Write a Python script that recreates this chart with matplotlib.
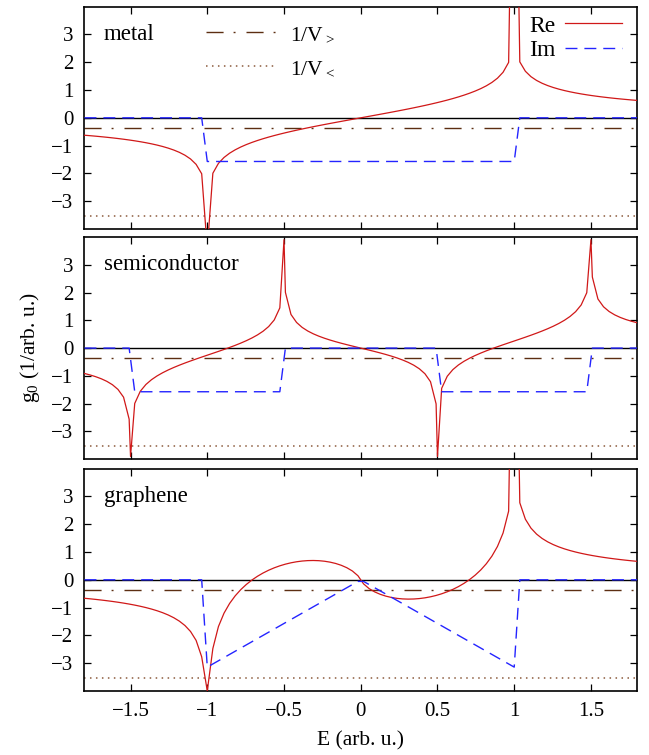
import numpy as np
import matplotlib
matplotlib.use('Agg')
import matplotlib.pyplot as plt
from matplotlib.ticker import FuncFormatter

plt.rcParams['font.family'] = ['Liberation Serif', 'DejaVu Serif']
plt.rcParams['mathtext.fontset'] = 'custom'
plt.rcParams['mathtext.rm'] = 'Liberation Serif'
plt.rcParams['mathtext.default'] = 'regular'
plt.rcParams['lines.scale_dashes'] = False

# sampling grid of the energy axis (100 samples)
energy = np.linspace(-1.8, 1.8, 100)
# semiconductor curve has extra samples right on the band edges
energy_semi = np.sort(np.append(energy, [-1.5, -0.5, 0.5, 1.5]))

# real parts
re_metal = [
    -0.6264, -0.6431, -0.6609, -0.6798, -0.7000, -0.7217, -0.7450, -0.7702, -0.7975, -0.8273,
    -0.8599, -0.8959, -0.9359, -0.9808, -1.0318, -1.0906, -1.1596, -1.2425, -1.3456, -1.4809,
    -1.6750, -2.0127, -4.7, -1.9945, -1.6386, -1.4263, -1.2728, -1.1513, -1.0500, -0.9626,
    -0.8854, -0.8157, -0.7520, -0.6931, -0.6381, -0.5864, -0.5373, -0.4904, -0.4455, -0.4022,
    -0.3603, -0.3195, -0.2798, -0.2409, -0.2027, -0.1651, -0.1280, -0.0912, -0.0546, -0.0182,
    0.0182, 0.0546, 0.0912, 0.1280, 0.1651, 0.2027, 0.2409, 0.2798, 0.3195, 0.3603,
    0.4022, 0.4455, 0.4904, 0.5373, 0.5864, 0.6381, 0.6931, 0.7520, 0.8157, 0.8854,
    0.9626, 1.0500, 1.1513, 1.2728, 1.4263, 1.6386, 1.9945, 15.0, 2.0127, 1.6750,
    1.4809, 1.3456, 1.2425, 1.1596, 1.0906, 1.0318, 0.9808, 0.9359, 0.8959, 0.8599,
    0.8273, 0.7975, 0.7702, 0.7450, 0.7217, 0.7000, 0.6798, 0.6609, 0.6431, 0.6264,
]

re_semi = [
    -0.9137, -0.9665, -1.0286, -1.1033, -1.1961, -1.3170, -1.4871, -1.7668, -2.5568, -3.9,
    -1.9922, -1.5526, -1.3100, -1.1377, -1.0014, -0.8870, -0.7870, -0.6971, -0.6144, -0.5370,
    -0.4634, -0.3926, -0.3235, -0.2554, -0.1875, -0.1190, -0.0491, 0.0231, 0.0988, 0.1794,
    0.2668, 0.3639, 0.4749, 0.6073, 0.7753, 1.0130, 1.4473, 3.9, 2.0059, 1.2095,
    0.9226, 0.7446, 0.6152, 0.5130, 0.4280, 0.3547, 0.2895, 0.2302, 0.1752, 0.1232,
    0.0732, 0.0243,
    -0.0243, -0.0732, -0.1232, -0.1752, -0.2302, -0.2895, -0.3547, -0.4280, -0.5130, -0.6152,
    -0.7446, -0.9226, -1.2095, -2.0059, -3.9, -1.4473, -1.0130, -0.7753, -0.6073, -0.4749,
    -0.3639, -0.2668, -0.1794, -0.0988, -0.0231, 0.0491, 0.1190, 0.1875, 0.2554, 0.3235,
    0.3926, 0.4634, 0.5370, 0.6144, 0.6971, 0.7870, 0.8870, 1.0014, 1.1377, 1.3100,
    1.5526, 1.9922, 3.9, 2.5568, 1.7668, 1.4871, 1.3170, 1.1961, 1.1033, 1.0286,
    0.9665, 0.9137,
]

re_graphene = [
    -0.6644, -0.6841, -0.7051, -0.7278, -0.7522, -0.7785, -0.8071, -0.8384, -0.8726, -0.9104,
    -0.9523, -0.9993, -1.0523, -1.1129, -1.1831, -1.2657, -1.3649, -1.4876, -1.6450, -1.8593,
    -2.1804, -2.7717, -4.0, -2.4720, -1.6820, -1.2005, -0.8510, -0.5773, -0.3538, -0.1668,
    -0.0080, 0.1280, 0.2449, 0.3452, 0.4309, 0.5032, 0.5632, 0.6116, 0.6488, 0.6751,
    0.6905, 0.6948, 0.6876, 0.6683, 0.6356, 0.5880, 0.5227, 0.4352, 0.3172, 0.1457,
    -0.1457, -0.3172, -0.4352, -0.5227, -0.5880, -0.6356, -0.6683, -0.6876, -0.6948, -0.6905,
    -0.6751, -0.6488, -0.6116, -0.5632, -0.5032, -0.4309, -0.3452, -0.2449, -0.1280, 0.0080,
    0.1668, 0.3538, 0.5773, 0.8510, 1.2005, 1.6820, 2.4720, 15.0, 2.7717, 2.1804,
    1.8593, 1.6450, 1.4876, 1.3649, 1.2657, 1.1831, 1.1129, 1.0523, 0.9993, 0.9523,
    0.9104, 0.8726, 0.8384, 0.8071, 0.7785, 0.7522, 0.7278, 0.7051, 0.6841, 0.6644,
]

# imaginary parts (corner points of the piecewise curves)
e_im_metal = [-1.8, -1.0364, -1.0, 1.0, 1.0364, 1.8]
im_metal = [0.0, 0.0, -1.5708, -1.5708, 0.0, 0.0]

e_im_semi = [-1.8, -1.5091, -1.4727, -0.5273, -0.4909, 0.4909, 0.5273, 1.4727, 1.5091, 1.8]
im_semi = [0.0, 0.0, -1.5708, -1.5708, 0.0, 0.0, -1.5708, -1.5708, 0.0, 0.0]

e_im_graphene = [-1.8, -1.0364, -1.0, -0.0182, 0.0182, 1.0, 1.0364, 1.8]
im_graphene = [0.0, 0.0, -3.1416, -0.0571, -0.0571, -3.1416, 0.0, 0.0]

# inverse potentials
inv_v_gt = -0.36
inv_v_lt = -3.53

panels = [
    ('metal', energy, re_metal, e_im_metal, im_metal),
    ('semiconductor', energy_semi, re_semi, e_im_semi, im_semi),
    ('graphene', energy, re_graphene, e_im_graphene, im_graphene),
]

RED = '#d01818'
BLUE = '#2424ff'
BROWN = '#5c2e12'
BROWN_DOT = '#8b5a3c'

fig = plt.figure(figsize=(6.49, 7.55), dpi=100)
left, width = 0.1302, 0.8513
bottoms = [0.6967, 0.3917, 0.0848]
height = 0.2945

fmt = FuncFormatter(lambda v, p: ('%g' % v).replace('-', '\u2212'))

axes = []
for (name, e_re, re, e_im, im), b in zip(panels, bottoms):
    ax = fig.add_axes([left, b, width, height])
    ax.axhline(0, color='black', lw=1.0, zorder=1)
    h_vg = ax.axhline(inv_v_gt, color=BROWN, lw=1.0, dashes=(12.3, 7.2, 1.4, 7.9), zorder=2)
    h_vl = ax.axhline(inv_v_lt, color=BROWN_DOT, lw=1.1, dashes=(1.1, 3.2), zorder=2)
    h_re, = ax.plot(e_re, re, color=RED, lw=0.9, zorder=3)
    h_im, = ax.plot(e_im, im, color=BLUE, lw=1.0, dashes=(8.6, 5.0), zorder=4)

    ax.set_xlim(-1.8, 1.8)
    ax.set_ylim(-4, 4)
    ax.set_xticks([-1.5, -1, -0.5, 0, 0.5, 1, 1.5])
    ax.set_yticks([-3, -2, -1, 0, 1, 2, 3])
    ax.xaxis.set_major_formatter(fmt)
    ax.yaxis.set_major_formatter(fmt)
    ax.tick_params(direction='in', top=True, right=True, length=5, width=0.9,
                   labelsize=15, pad=8)
    for s in ax.spines.values():
        s.set_linewidth(1.2)
    ax.text(0.035, 0.876, name, transform=ax.transAxes, fontsize=16.5,
            ha='left', va='center')
    if b != bottoms[-1]:
        ax.tick_params(labelbottom=False)
    axes.append(ax)

    if name == 'metal':
        leg1 = ax.legend([h_re, h_im], ['Re', 'Im'], loc='upper right',
                         bbox_to_anchor=(0.973, 0.962), frameon=False, markerfirst=False,
                         fontsize=17, handlelength=2.4, labelspacing=0.12,
                         handletextpad=0.4, borderpad=0, borderaxespad=0)
        ax.add_artist(leg1)
        ax.legend([h_vg, h_vl], ['1/V$_>$', '1/V$_<$'], loc='upper left',
                  bbox_to_anchor=(0.22, 0.918), frameon=False, fontsize=15.5,
                  handlelength=3.3, labelspacing=0.65, handletextpad=0.6,
                  borderpad=0, borderaxespad=0)

axes[-1].set_xlabel('E (arb. u.)', fontsize=15.5, labelpad=7)
fig.text(0.046, 0.539, 'g$_0$ (1/arb. u.)', rotation=90, fontsize=15.5,
         ha='center', va='center')

plt.savefig('out.png', dpi=100)
plt.close()
